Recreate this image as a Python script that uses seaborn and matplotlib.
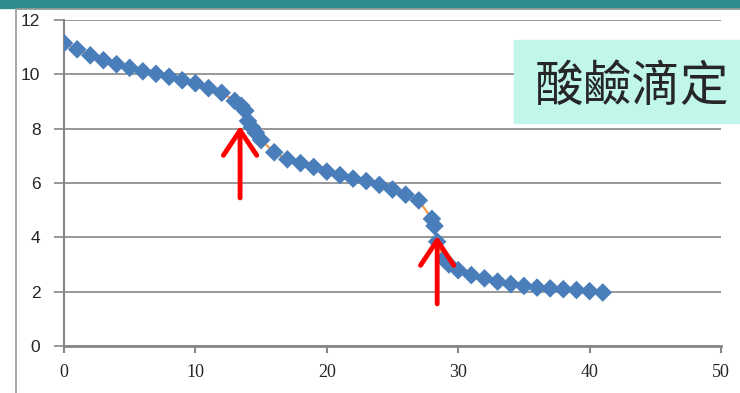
import pandas as pd
import matplotlib.pyplot as plt
import seaborn as sns
from matplotlib.patches import Rectangle
from matplotlib.lines import Line2D

# Titration curve values
volume = [0, 1, 2, 3, 4, 5, 6, 7, 8, 9, 10, 11, 12, 13, 13.5, 13.8, 14, 14.3, 14.6, 15,
          16, 17, 18, 19, 20, 21, 22, 23, 24, 25, 26, 27, 28, 28.2, 28.4, 28.9, 29.3, 30,
          31, 32, 33, 34, 35, 36, 37, 38, 39, 40, 41]
ph = [11.15, 10.92, 10.70, 10.52, 10.37, 10.24, 10.11, 10.02, 9.91, 9.78, 9.67, 9.49, 9.32,
      9.02, 8.84, 8.66, 8.28, 8.05, 7.85, 7.58,
      7.13, 6.87, 6.73, 6.59, 6.42, 6.29, 6.16, 6.07, 5.93, 5.76, 5.57, 5.36,
      4.68, 4.42, 3.84, 3.20, 3.00, 2.79,
      2.61, 2.49, 2.37, 2.28, 2.21, 2.15, 2.12, 2.09, 2.06, 2.02, 1.97]
x_ticks = [0, 10, 20, 30, 40, 50]
y_ticks = [0, 2, 4, 6, 8, 10, 12]
# equivalence points marked with arrows: (x, tip y, tail y)
arrows = [(13.4, 8.1, 5.45), (28.4, 4.05, 1.55)]
title = "酸鹼滴定"

df = pd.DataFrame({"volume": volume, "ph": ph})

sns.set_style("white")
plt.rcParams["font.family"] = ["Liberation Sans", "DejaVu Sans"]

fig = plt.figure(figsize=(7.4, 3.93), dpi=100)
ax = fig.add_axes([64 / 740, 47 / 393, 657 / 740, 326 / 393])

grey = "#868686"
sns.lineplot(data=df, x="volume", y="ph", ax=ax, color="#F79646", lw=1.5,
             sort=False, estimator=None, zorder=2)
sns.scatterplot(data=df, x="volume", y="ph", ax=ax, marker="D", s=90,
                color="#4A7EBB", edgecolor="none", linewidth=0, zorder=3)

ax.set_xlim(0, 50)
ax.set_ylim(0, 12)
ax.set_xticks(x_ticks)
ax.set_yticks(y_ticks)
ax.set_xlabel("")
ax.set_ylabel("")
ax.yaxis.grid(True, color=grey, lw=1.2)
ax.xaxis.grid(False)
ax.set_axisbelow(True)
for s in ["top", "right"]:
    ax.spines[s].set_visible(False)
ax.spines["left"].set_color(grey)
ax.spines["left"].set_linewidth(1.5)
ax.spines["bottom"].set_color(grey)
ax.spines["bottom"].set_linewidth(2)
ax.tick_params(axis="y", direction="out", length=7, width=1.2, color=grey,
               labelsize=12.5, pad=10, left=True)
ax.tick_params(axis="x", direction="out", length=5, width=1.5, color=grey,
               labelsize=13, pad=8, bottom=True)
for lab in ax.get_xticklabels():
    lab.set_family("Liberation Serif")

for x, tip, tail in arrows:
    ax.annotate("", xy=(x, tip), xytext=(x, tail),
                arrowprops=dict(arrowstyle="->,head_length=0.6,head_width=0.4",
                                color="red", lw=3.5, mutation_scale=30,
                                shrinkA=0, shrinkB=0), zorder=4)

# slide frame and title box
fig.patches.append(Rectangle((0, 385 / 393), 1, 8 / 393, transform=fig.transFigure,
                             color="#2E8C8E", zorder=0))
fig.lines.append(Line2D([16 / 740, 16 / 740], [0, 384 / 393], transform=fig.transFigure,
                        color="#9A9A9A", lw=1.2))
fig.lines.append(Line2D([16 / 740, 1], [384 / 393, 384 / 393], transform=fig.transFigure,
                        color="#9A9A9A", lw=1.2))
fig.patches.append(Rectangle((514 / 740, (393 - 123) / 393), 226 / 740, 83 / 393,
                             transform=fig.transFigure, color="#C0F7EA", zorder=5))
fig.text(535 / 740, (393 - 87) / 393, title, fontsize=35, va="center", ha="left",
         family=["Noto Sans CJK TC", "DejaVu Sans"], zorder=6)

fig.savefig("out.png", dpi=100)
